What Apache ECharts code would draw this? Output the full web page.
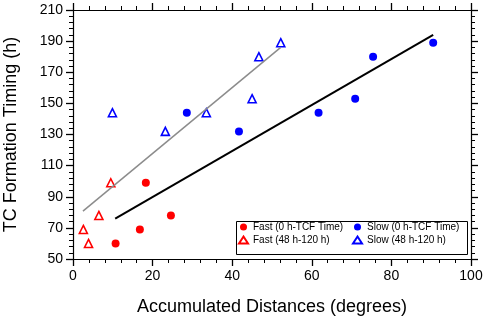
<!DOCTYPE html>
<html>
<head>
<meta charset="utf-8">
<script src="https://cdn.jsdelivr.net/npm/echarts@6/dist/echarts.min.js"></script>
<style>
  html, body { margin: 0; padding: 0; background: #fff; }
  #main { width: 484px; height: 319px; }
</style>
</head>
<body>
<div id="main"></div>
<script>
// values: [distance, timing]
var fastNow = [[10.7, 60], [16.8, 69], [18.3, 99], [24.6, 78]];
var fastLead = [[2.6, 69], [3.9, 60], [6.5, 78], [9.5, 99]];
var slowNow = [[28.6, 144], [41.7, 132], [61.7, 144], [70.9, 153], [75.4, 180], [90.5, 189]];
var slowLead = [[9.9, 144], [23.2, 132], [33.5, 144], [45.0, 153], [46.7, 180], [52.2, 189]];
// fitted lines
var fitLead = [[2.5, 80.8], [52.2, 186]];
var fitNow = [[10.6, 75.9], [90.5, 194]];

var xTicks = [0, 100, 20];
var yTicks = [50, 210, 20];

var font = 'Liberation Sans, Arial, Helvetica, sans-serif';
var chart = echarts.init(document.getElementById('main'));

// one axis of the frame, ticks pointing out on every side
function frameAxis(pos, labels, t) {
	return {
		type: 'value', position: pos,
		min: t[0], max: t[1], interval: t[2],
		axisLine: { show: true, onZero: false, lineStyle: { color: '#000', width: 1.2 } },
		axisTick: { show: true, length: 7, lineStyle: { color: '#000', width: 1.3 } },
		minorTick: { show: true, splitNumber: 5, length: 4, lineStyle: { color: '#000', width: 1 } },
		splitLine: { show: false },
		axisLabel: { show: labels, color: '#000', fontSize: 14, fontFamily: font, margin: 10 }
	};
}

var bottomX = frameAxis('bottom', true, xTicks);
bottomX.name = 'Accumulated Distances (degrees)';
bottomX.nameLocation = 'middle';
bottomX.nameGap = 39;
bottomX.nameTextStyle = { color: '#000', fontSize: 18, fontFamily: font };
var leftY = frameAxis('left', true, yTicks);
leftY.name = 'TC Formation Timing (h)';
leftY.nameLocation = 'middle';
leftY.nameGap = 53;
leftY.nameTextStyle = { color: '#000', fontSize: 18, fontFamily: font };

var legendText = { color: '#000', fontSize: 10, fontFamily: font };

var option = {
	animation: false,
	grid: { left: 73, right: 13, top: 10, bottom: 60, outerBoundsMode: 'none', containLabel: false },
	xAxis: [bottomX, frameAxis('top', false, xTicks)],
	yAxis: [leftY, frameAxis('right', false, yTicks)],
	legend: [{
		orient: 'vertical', left: 238, top: 222, padding: 0,
		itemWidth: 9, itemHeight: 7, itemGap: 3, textStyle: legendText,
		data: ['Fast (0 h-TCF Time)', 'Fast (48 h-120 h)']
	}, {
		orient: 'vertical', left: 352, top: 222, padding: 0,
		itemWidth: 9, itemHeight: 7, itemGap: 3, textStyle: legendText,
		data: ['Slow (0 h-TCF Time)', 'Slow (48 h-120 h)']
	}],
	graphic: [{
		type: 'rect', left: 234, top: 219, silent: true,
		shape: { width: 231, height: 33 },
		style: { fill: 'none', stroke: '#000', lineWidth: 1 }
	}],
	series: [
		{ name: 'fitLead', type: 'line', data: fitLead, symbol: 'none',
		  lineStyle: { color: '#8c8c8c', width: 1.5 } },
		{ name: 'fitNow', type: 'line', data: fitNow, symbol: 'none',
		  lineStyle: { color: '#000', width: 2 } },
		{ name: 'Fast (0 h-TCF Time)', type: 'scatter', data: fastNow, symbol: 'circle', symbolSize: 8,
		  itemStyle: { color: '#ff0000', opacity: 1 } },
		{ name: 'Fast (48 h-120 h)', type: 'scatter', data: fastLead, symbol: 'triangle', symbolSize: 8,
		  itemStyle: { color: '#fff', borderColor: '#ff0000', borderWidth: 1.6, opacity: 1 } },
		{ name: 'Slow (0 h-TCF Time)', type: 'scatter', data: slowNow, symbol: 'circle', symbolSize: 8,
		  itemStyle: { color: '#0000ff', opacity: 1 } },
		{ name: 'Slow (48 h-120 h)', type: 'scatter', data: slowLead, symbol: 'triangle', symbolSize: 8,
		  itemStyle: { color: '#fff', borderColor: '#0000ff', borderWidth: 1.6, opacity: 1 } }
	]
};
chart.setOption(option);
</script>
</body>
</html>
